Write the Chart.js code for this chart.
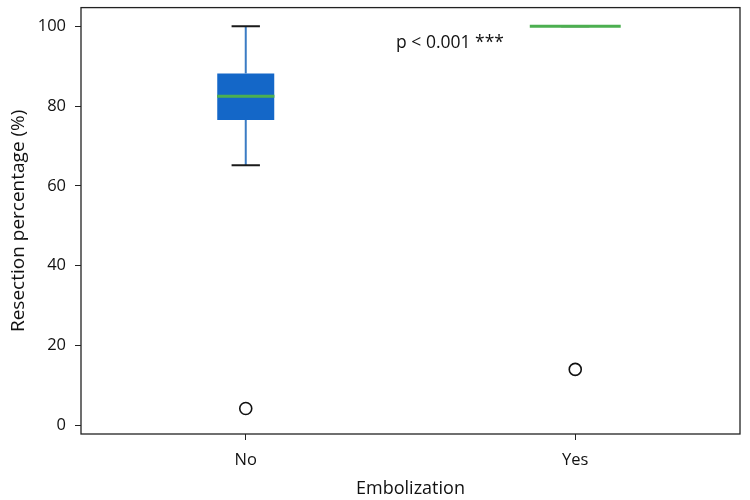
<!DOCTYPE html>
<html>
<head>
<meta charset="utf-8">
<script src="https://cdn.jsdelivr.net/npm/chart.js@4"></script>
<style>
  html, body { margin: 0; padding: 0; background: #fff; }
  #wrap { width: 750px; height: 500px; }
</style>
</head>
<body>
<div id="wrap"><canvas id="boxChart"></canvas></div>
<script>
// Data
const categories = ['No', 'Yes'];
const q1Values = [76.5, 100];
const q3Values = [88.2, 100];
const medianValues = [82.5, 100];
const whiskerLow = [65.2, 100];
const whiskerHigh = [100, 100];
const outlierValues = [4.2, 14.0];
const yTicks = [0, 20, 40, 60, 80, 100];
const pValueText = 'p < 0.001 ***';

// Styles
const boxColor = '#1467c8';
const whiskerColor = '#3b7cc4';
const capColor = '#1a1a1a';
const medianColor = '#4caf50';
const fontFamily = '"Open Sans", "Noto Sans", sans-serif';

// Draws whiskers, caps, medians, frame and p-value label
const boxExtras = {
    id: 'boxExtras',
    afterDatasetsDraw(chart) {
        const ctx = chart.ctx;
        const x = chart.scales.x;
        const y = chart.scales.y;
        const area = chart.chartArea;
        const catWidth = x.getPixelForValue(1) - x.getPixelForValue(0);
        const capHalf = catWidth * 0.043;
        const medianHalf = [catWidth * 0.087, catWidth * 0.138];

        ctx.save();
        categories.forEach((cat, i) => {
            const cx = x.getPixelForValue(i);
            // whiskers
            ctx.strokeStyle = whiskerColor;
            ctx.lineWidth = 2;
            ctx.beginPath();
            ctx.moveTo(cx, y.getPixelForValue(q3Values[i]));
            ctx.lineTo(cx, y.getPixelForValue(whiskerHigh[i]));
            ctx.moveTo(cx, y.getPixelForValue(q1Values[i]));
            ctx.lineTo(cx, y.getPixelForValue(whiskerLow[i]));
            ctx.stroke();
            // caps
            ctx.strokeStyle = capColor;
            ctx.lineWidth = 2;
            ctx.beginPath();
            [whiskerLow[i], whiskerHigh[i]].forEach(v => {
                const py = y.getPixelForValue(v);
                ctx.moveTo(cx - capHalf, py);
                ctx.lineTo(cx + capHalf, py);
            });
            ctx.stroke();
            // median
            ctx.strokeStyle = medianColor;
            ctx.lineWidth = 3;
            ctx.beginPath();
            const my = y.getPixelForValue(medianValues[i]);
            ctx.moveTo(cx - medianHalf[i], my);
            ctx.lineTo(cx + medianHalf[i], my);
            ctx.stroke();
        });

        // frame
        ctx.strokeStyle = '#222';
        ctx.lineWidth = 1.3;
        ctx.strokeRect(area.left, area.top, area.right - area.left, area.bottom - area.top);

        // p-value annotation
        ctx.fillStyle = '#111';
        ctx.font = '17.5px ' + fontFamily;
        ctx.textAlign = 'center';
        ctx.textBaseline = 'middle';
        ctx.fillText(pValueText, x.getPixelForValue(0.62), y.getPixelForValue(95.8));
        ctx.restore();
    }
};

document.addEventListener('DOMContentLoaded', function() {
    const ctx = document.getElementById('boxChart');
    new Chart(ctx, {
        type: 'bar',
        data: {
            labels: categories,
            datasets: [{
                label: 'IQR',
                data: q1Values.map((q1, i) => [q1, q3Values[i]]),
                backgroundColor: boxColor,
                borderWidth: 0,
                borderSkipped: false,
                categoryPercentage: 1,
                barPercentage: 0.173,
                order: 2
            }, {
                type: 'line',
                label: 'Outliers',
                data: outlierValues,
                showLine: false,
                pointStyle: 'circle',
                pointRadius: 6,
                pointBorderWidth: 1.6,
                pointBorderColor: '#111',
                pointBackgroundColor: 'rgba(255,255,255,0)',
                order: 1
            }]
        },
        options: {
            responsive: true,
            maintainAspectRatio: false,
            animation: false,
            layout: { padding: { top: 5, right: 10, left: 0, bottom: 0 } },
            plugins: {
                legend: { display: false },
                tooltip: { enabled: false }
            },
            scales: {
                x: {
                    offset: true,
                    grid: { display: true, drawOnChartArea: false, tickLength: 6, color: '#222', offset: false },
                    border: { display: false },
                    ticks: { color: '#111', font: { family: fontFamily, size: 16.5 }, padding: 10 },
                    title: { display: true, text: 'Embolization', color: '#111', font: { family: fontFamily, size: 18 }, padding: { top: 0, bottom: 0 } },
                    afterFit(scale) { scale.height = 66; }
                },
                y: {
                    min: -2.2,
                    max: 104.7,
                    afterBuildTicks(scale) { scale.ticks = yTicks.map(v => ({ value: v })); },
                    grid: { display: true, drawOnChartArea: false, tickLength: 6, color: '#222' },
                    border: { display: false },
                    ticks: { color: '#111', font: { family: fontFamily, size: 16.5 }, padding: 9 },
                    title: { display: true, text: 'Resection percentage (%)', color: '#111', font: { family: fontFamily, size: 19 }, padding: { top: 7, bottom: 0 } },
                    afterFit(scale) {
                        scale.width = 81;
                        scale.paddingTop = 0;
                        scale.paddingBottom = 0;
                    }
                }
            }
        },
        plugins: [boxExtras]
    });
});
</script>
</body>
</html>
